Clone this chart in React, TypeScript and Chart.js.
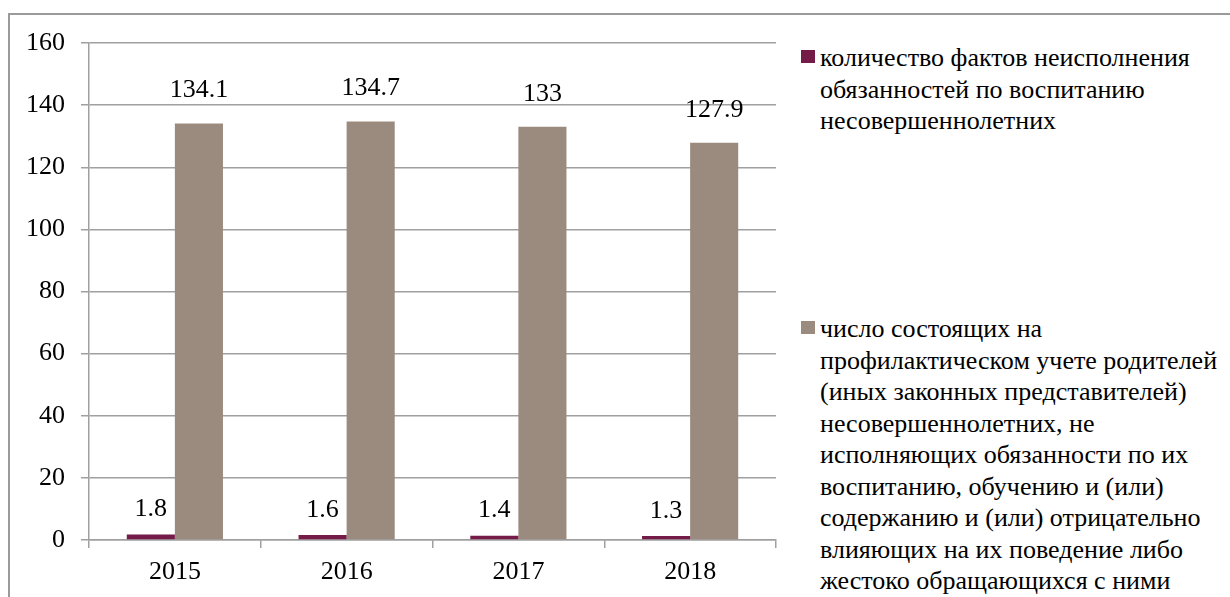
import React, { useEffect, useRef } from "react";
import { Chart, registerables } from "chart.js";

Chart.register(...registerables);

const categories = ["2015", "2016", "2017", "2018"];
const factsValues = [1.8, 1.6, 1.4, 1.3];
const registeredValues = [134.1, 134.7, 133, 127.9];
const yTicks = [0, 20, 40, 60, 80, 100, 120, 140, 160];
const seriesNames = [
  "количество фактов неисполнения\nобязанностей по воспитанию\nнесовершеннолетних",
  "число состоящих на\nпрофилактическом учете родителей\n(иных законных представителей)\nнесовершеннолетних, не\nисполняющих обязанности по их\nвоспитанию, обучению и (или)\nсодержанию и (или) отрицательно\nвлияющих на их поведение либо\nжестоко обращающихся с ними",
];
const seriesColors = ["#741B47", "#9B8B7F"];

const FONT = "'Liberation Serif', 'DejaVu Serif', serif";
const GRID = "#a0a0a0";
const FS = 26;

const labelPlugin = {
  id: "valueLabels",
  afterDatasetsDraw(chart: any) {
    const ctx = chart.ctx;
    const offsets = [25, 33];
    ctx.save();
    ctx.font = `${FS}px ${FONT}`;
    ctx.fillStyle = "#000";
    ctx.textAlign = "center";
    ctx.textBaseline = "middle";
    chart.data.datasets.forEach((ds: any, di: number) => {
      const meta = chart.getDatasetMeta(di);
      meta.data.forEach((el: any, i: number) => {
        ctx.fillText(String(ds.data[i]), el.x, el.y - offsets[di]);
      });
    });
    ctx.restore();
  },
};

export default function App() {
  const ref = useRef<HTMLCanvasElement>(null);
  useEffect(() => {
    if (!ref.current) return;
    const chart = new Chart(ref.current, {
      type: "bar",
      data: {
        labels: categories,
        datasets: [
          { label: seriesNames[0], data: factsValues, backgroundColor: seriesColors[0] },
          { label: seriesNames[1], data: registeredValues, backgroundColor: seriesColors[1] },
        ],
      },
      options: {
        responsive: false,
        animation: false,
        datasets: { bar: { categoryPercentage: 0.56, barPercentage: 1.0 } },
        layout: { padding: { top: 43, right: 24, left: 0, bottom: 0 } },
        plugins: { legend: { display: false }, tooltip: { enabled: false } },
        scales: {
          x: {
            afterFit(scale: any) {
              scale.height = 57;
            },
            grid: {
              offset: true,
              drawOnChartArea: false,
              drawTicks: true,
              tickLength: 8,
              color: GRID,
              lineWidth: 1.5,
            },
            border: { display: true, color: GRID, width: 1.5 },
            ticks: { font: { family: FONT, size: FS }, color: "#000", padding: 9 },
          },
          y: {
            min: 0,
            max: 160,
            afterFit(scale: any) {
              scale.width = 89;
            },
            afterBuildTicks(scale: any) {
              scale.ticks = yTicks.map((v) => ({ value: v }));
            },
            grid: { color: GRID, lineWidth: 1.5, tickLength: 8, drawTicks: true },
            border: { display: true, color: GRID, width: 1.5 },
            ticks: { font: { family: FONT, size: FS }, color: "#000", padding: 16 },
          },
        },
      },
      plugins: [labelPlugin],
    });
    return () => chart.destroy();
  }, []);

  const legendTops = [42, 313];
  return (
    <div style={{ position: "fixed", left: 0, top: 0, width: 1230, height: 597, overflow: "hidden", background: "#fff" }}>
      <div
        style={{
          position: "absolute",
          left: 8,
          top: 13,
          width: 1300,
          height: 700,
          borderLeft: "2px solid #9a9a9a",
          borderTop: "2px solid #9a9a9a",
          boxSizing: "border-box",
        }}
      />
      <canvas ref={ref} width={800} height={597} style={{ position: "absolute", left: 0, top: 0 }} />
      {seriesNames.map((name, i) => (
        <div key={i} style={{ position: "absolute", left: 801, top: legendTops[i], display: "flex", alignItems: "flex-start" }}>
          <div style={{ width: 14, height: 13, background: seriesColors[i], marginTop: 8, marginRight: 5, flex: "none" }} />
          <div style={{ fontFamily: FONT, fontSize: FS, lineHeight: "31.5px", whiteSpace: "pre", color: "#000" }}>{name}</div>
        </div>
      ))}
    </div>
  );
}
